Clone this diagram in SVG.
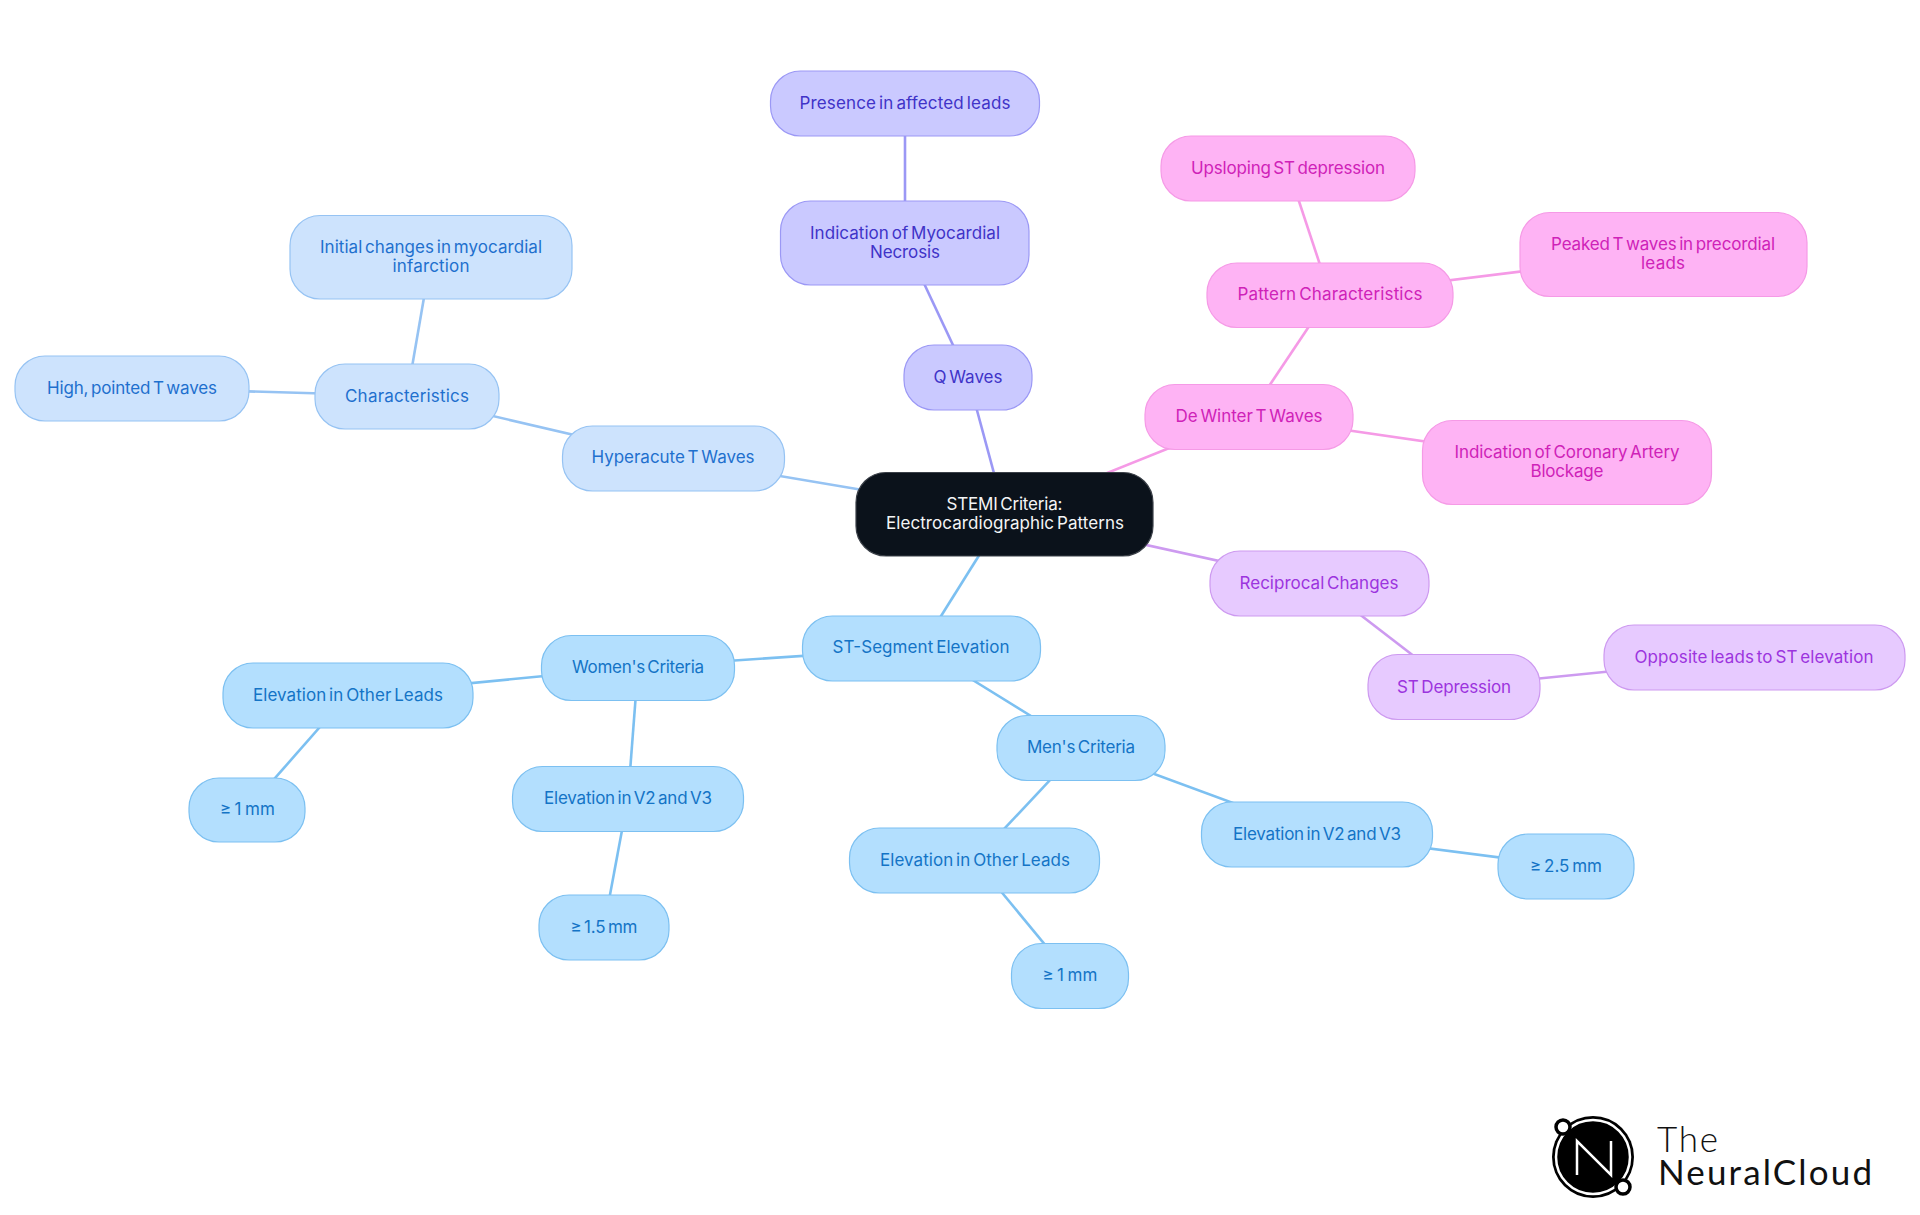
<svg xmlns="http://www.w3.org/2000/svg" width="1920" height="1215" viewBox="0 0 1920 1215">
<style>
text{font-family:"Inter","Noto Sans","Liberation Sans",sans-serif;font-size:17px;font-weight:400;text-anchor:middle;word-spacing:-2px}
.n{stroke-width:1.2}
.root rect{fill:#0b121b;stroke:#3b4048}.root text{fill:#f4f5f6}
.st rect{fill:#b3dffe;stroke:#7cc0f1}.st text{fill:#1474c6}
.hy rect{fill:#cde3fd;stroke:#96c3f3}.hy text{fill:#1f70ce}
.q rect{fill:#cac9ff;stroke:#9b98f5}.q text{fill:#4033c8}
.dw rect{fill:#feb3f4;stroke:#f59ae6}.dw text{fill:#cf22b8}
.re rect{fill:#e7caff;stroke:#cd9af0}.re text{fill:#9c34de}
#edges line{stroke-width:2.6}
#logo text{font-family:"Lato","Noto Sans",sans-serif;text-anchor:start;fill:#111;font-size:35px;word-spacing:0}
</style>
<g id="edges">
<g stroke="#7cc0f1"><line x1="1005" y1="514" x2="921" y2="648"/><line x1="921" y1="648" x2="638" y2="667"/><line x1="638" y1="667" x2="348" y2="695"/><line x1="348" y1="695" x2="247" y2="810"/><line x1="638" y1="667" x2="628" y2="798"/><line x1="628" y1="798" x2="604" y2="927"/><line x1="921" y1="648" x2="1081" y2="747"/><line x1="1081" y1="747" x2="975" y2="860"/><line x1="975" y1="860" x2="1070" y2="975"/><line x1="1081" y1="747" x2="1317" y2="834"/><line x1="1317" y1="834" x2="1566" y2="866"/></g>
<g stroke="#96c3f3"><line x1="1005" y1="514" x2="673" y2="458"/><line x1="673" y1="458" x2="407" y2="396"/><line x1="407" y1="396" x2="431" y2="257"/><line x1="407" y1="396" x2="132" y2="388"/></g>
<g stroke="#9b98f5"><line x1="1005" y1="514" x2="968" y2="377"/><line x1="968" y1="377" x2="905" y2="243"/><line x1="905" y1="243" x2="905" y2="103"/></g>
<g stroke="#f59ae6"><line x1="1005" y1="514" x2="1249" y2="416"/><line x1="1249" y1="416" x2="1330" y2="295"/><line x1="1330" y1="295" x2="1288" y2="168"/><line x1="1330" y1="295" x2="1663" y2="254"/><line x1="1249" y1="416" x2="1567" y2="462"/></g>
<g stroke="#cd9af0"><line x1="1005" y1="514" x2="1319" y2="583"/><line x1="1319" y1="583" x2="1454" y2="687"/><line x1="1454" y1="687" x2="1754" y2="657"/></g>
</g>
<g id="root" class="root"><rect class="n" x="856" y="472.500" width="297" height="83.500" rx="30"/><text x="1004.500" y="510" textLength="116">STEMI Criteria:</text><text x="1005" y="529" textLength="238">Electrocardiographic Patterns</text></g>
<g id="st-seg" class="st"><rect class="n" x="802.500" y="616" width="238" height="65" rx="30"/><text x="921" y="653" textLength="177">ST-Segment Elevation</text></g>
<g id="women" class="st"><rect class="n" x="541.500" y="635.500" width="193" height="65" rx="30"/><text x="638" y="673" textLength="132">Women's Criteria</text></g>
<g id="w-other" class="st"><rect class="n" x="223" y="663" width="250" height="65" rx="30"/><text x="348" y="701" textLength="190">Elevation in Other Leads</text></g>
<g id="w-other-v" class="st"><rect class="n" x="189" y="778" width="116" height="64" rx="30"/><text x="247.500" y="815" textLength="55">≥ 1 mm</text></g>
<g id="w-v2" class="st"><rect class="n" x="512.500" y="766.500" width="231" height="65" rx="30"/><text x="628" y="804" textLength="168">Elevation in V2 and V3</text></g>
<g id="w-v2-v" class="st"><rect class="n" x="539" y="895" width="130" height="65" rx="30"/><text x="604" y="933" textLength="67">≥ 1.5 mm</text></g>
<g id="men" class="st"><rect class="n" x="997" y="715.500" width="168" height="65" rx="30"/><text x="1081" y="753" textLength="108">Men's Criteria</text></g>
<g id="m-other" class="st"><rect class="n" x="849.500" y="828" width="250" height="65" rx="30"/><text x="975" y="866" textLength="190">Elevation in Other Leads</text></g>
<g id="m-other-v" class="st"><rect class="n" x="1011.500" y="943.500" width="117" height="65" rx="30"/><text x="1070" y="981" textLength="55">≥ 1 mm</text></g>
<g id="m-v2" class="st"><rect class="n" x="1201.500" y="802" width="231" height="65" rx="30"/><text x="1317" y="840" textLength="168">Elevation in V2 and V3</text></g>
<g id="m-v2-v" class="st"><rect class="n" x="1498" y="834" width="136" height="65" rx="30"/><text x="1566" y="872" textLength="72">≥ 2.5 mm</text></g>
<g id="hyper" class="hy"><rect class="n" x="562.500" y="426" width="222" height="65" rx="30"/><text x="673" y="463" textLength="163">Hyperacute T Waves</text></g>
<g id="char" class="hy"><rect class="n" x="315" y="364" width="184" height="65" rx="30"/><text x="407" y="402" textLength="124">Characteristics</text></g>
<g id="initial" class="hy"><rect class="n" x="290" y="215.500" width="282" height="83.500" rx="30"/><text x="431" y="253" textLength="222">Initial changes in myocardial</text><text x="431" y="272" textLength="77">infarction</text></g>
<g id="high" class="hy"><rect class="n" x="15" y="356" width="234" height="65" rx="30"/><text x="132" y="394" textLength="170">High, pointed T waves</text></g>
<g id="q" class="q"><rect class="n" x="904" y="345" width="128" height="65" rx="30"/><text x="968" y="383" textLength="69">Q Waves</text></g>
<g id="necrosis" class="q"><rect class="n" x="780.500" y="201" width="248.500" height="84" rx="30"/><text x="905" y="239" textLength="190">Indication of Myocardial</text><text x="905" y="258" textLength="70">Necrosis</text></g>
<g id="presence" class="q"><rect class="n" x="770.500" y="71" width="269" height="65" rx="30"/><text x="905" y="109" textLength="211">Presence in affected leads</text></g>
<g id="dewinter" class="dw"><rect class="n" x="1145" y="384.500" width="208" height="65" rx="30"/><text x="1249" y="422" textLength="147">De Winter T Waves</text></g>
<g id="pattern" class="dw"><rect class="n" x="1207" y="263" width="246" height="64.500" rx="30"/><text x="1330" y="300" textLength="185">Pattern Characteristics</text></g>
<g id="upslope" class="dw"><rect class="n" x="1161" y="136" width="254" height="65" rx="30"/><text x="1288" y="174" textLength="194">Upsloping ST depression</text></g>
<g id="peaked" class="dw"><rect class="n" x="1520" y="212.500" width="287" height="84" rx="30"/><text x="1663" y="250" textLength="224">Peaked T waves in precordial</text><text x="1663" y="269" textLength="44">leads</text></g>
<g id="blockage" class="dw"><rect class="n" x="1422.500" y="420.500" width="289" height="84" rx="30"/><text x="1567" y="458" textLength="225">Indication of Coronary Artery</text><text x="1567" y="477" textLength="73">Blockage</text></g>
<g id="reciprocal" class="re"><rect class="n" x="1210" y="551" width="219" height="65" rx="30"/><text x="1319" y="589" textLength="159">Reciprocal Changes</text></g>
<g id="stdep" class="re"><rect class="n" x="1368" y="654.500" width="172" height="65" rx="30"/><text x="1454" y="693" textLength="114">ST Depression</text></g>
<g id="opposite" class="re"><rect class="n" x="1604" y="625" width="301" height="65" rx="30"/><text x="1754" y="663" textLength="239">Opposite leads to ST elevation</text></g>
<g id="logo">
<circle cx="1593" cy="1157" r="41" fill="#000"/><circle cx="1593" cy="1157" r="37" fill="none" stroke="#fff" stroke-width="2.500"/>
<path d="M1577 1175V1141L1611 1175V1141" fill="none" stroke="#fff" stroke-width="2.500"/>
<circle cx="1563" cy="1127" r="7" fill="#fff" stroke="#000" stroke-width="3.500"/><circle cx="1623" cy="1187" r="7" fill="#fff" stroke="#000" stroke-width="3.500"/>
<text x="1657" y="1152" textLength="61" style="font-weight:300">The</text>
<text x="1658" y="1185" textLength="214" style="font-weight:400">NeuralCloud</text>
</g>
</svg>
